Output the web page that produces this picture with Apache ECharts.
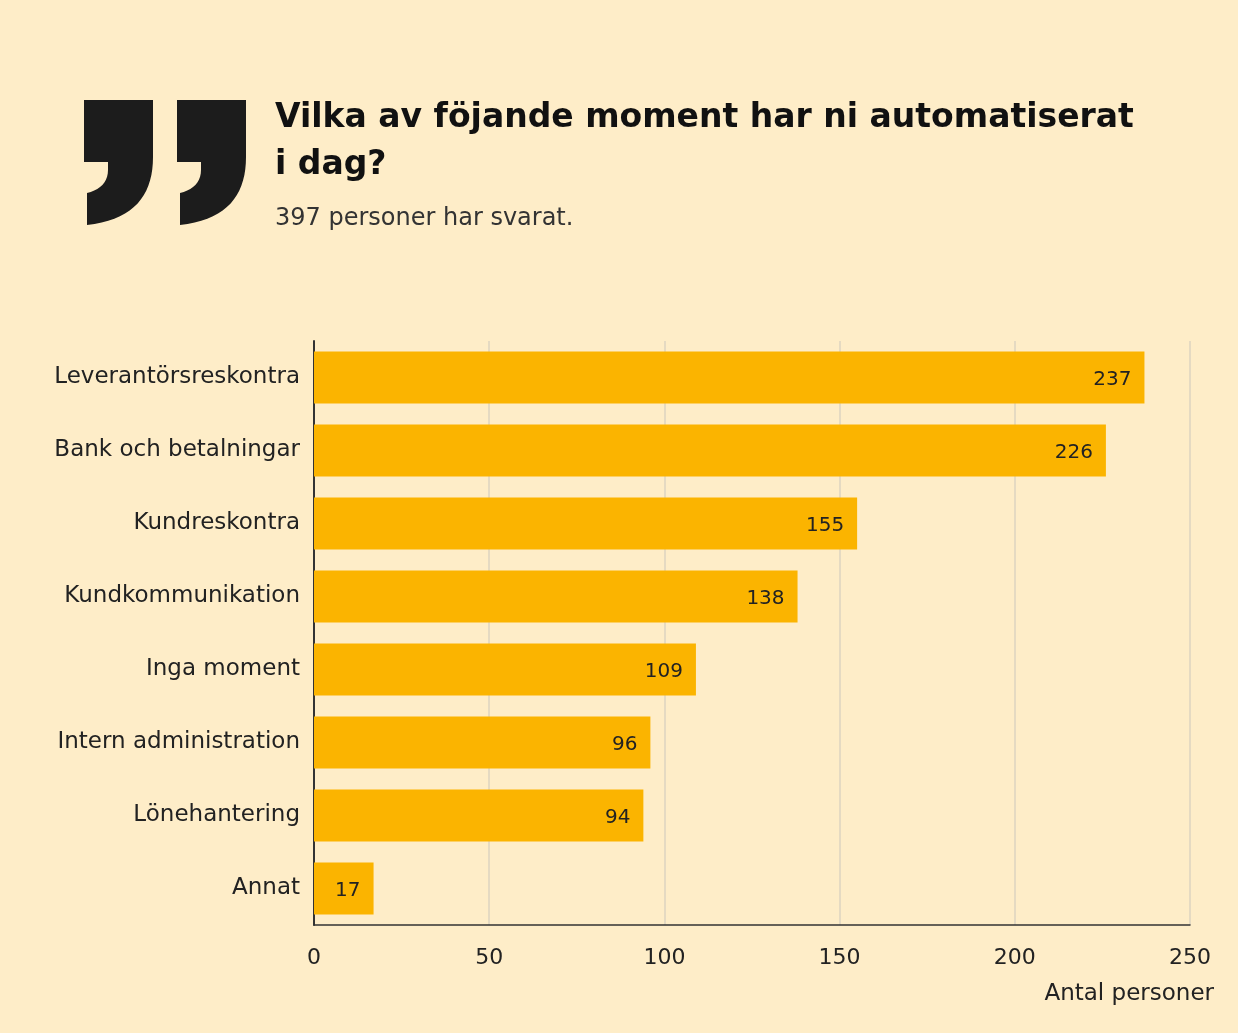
<!DOCTYPE html>
<html>
<head>
<meta charset="utf-8">
<script src="https://cdn.jsdelivr.net/npm/echarts@6/dist/echarts.min.js"></script>
<style>
  html, body { margin: 0; padding: 0; background: #FEEDC8; }
  #chart { width: 1238px; height: 1033px; }
</style>
</head>
<body>
<div id="chart"></div>
<script>
// data
const categories = [
  'Leverantörsreskontra',
  'Bank och betalningar',
  'Kundreskontra',
  'Kundkommunikation',
  'Inga moment',
  'Intern administration',
  'Lönehantering',
  'Annat'
];
const values = [237, 226, 155, 138, 109, 96, 94, 17];
const xTicks = [0, 50, 100, 150, 200, 250];

const FONT = '"DejaVu Sans", sans-serif';

// quote mark outline, flattened from two bezier curves
function bez(p0, p1, p2, p3, n) {
  const out = [];
  for (let i = 1; i <= n; i++) {
    const t = i / n, u = 1 - t;
    out.push([
      u * u * u * p0[0] + 3 * u * u * t * p1[0] + 3 * u * t * t * p2[0] + t * t * t * p3[0],
      u * u * u * p0[1] + 3 * u * u * t * p1[1] + 3 * u * t * t * p2[1] + t * t * t * p3[1]
    ]);
  }
  return out;
}
function quote(ox, oy) {
  let pts = [[0, 0], [69, 0], [69, 57]];
  pts = pts.concat(bez([69, 57], [69, 95], [50, 120], [3, 125], 18));
  pts.push([3, 93]);
  pts = pts.concat(bez([3, 93], [16, 90], [24, 82], [24, 70], 10));
  pts.push([24, 62], [0, 62]);
  return {
    type: 'polygon',
    shape: { points: pts.map(p => [p[0] + ox, p[1] + oy]) },
    style: { fill: '#1c1c1c' }
  };
}

const chart = echarts.init(document.getElementById('chart'));

chart.setOption({
  backgroundColor: '#FEEDC8',
  textStyle: { fontFamily: FONT },
  title: {
    left: 275,
    top: 95,
    padding: 0,
    text: 'Vilka av föjande moment har ni automatiserat\ni dag?',
    textStyle: {
      fontFamily: FONT,
      fontSize: 33,
      fontWeight: 'bold',
      color: '#111',
      lineHeight: 47
    },
    subtext: '397 personer har svarat.',
    subtextStyle: {
      fontFamily: FONT,
      fontSize: 24,
      color: '#333'
    },
    itemGap: 18
  },
  graphic: [quote(84, 100), quote(177, 100)],
  grid: { left: 314, right: 48, top: 341, bottom: 108 },
  xAxis: {
    type: 'value',
    min: xTicks[0],
    max: xTicks[xTicks.length - 1],
    interval: 50,
    name: 'Antal personer',
    nameLocation: 'end',
    nameGap: 24,
    nameTextStyle: {
      fontFamily: FONT,
      fontSize: 23,
      color: '#222',
      align: 'right',
      verticalAlign: 'top',
      padding: [58, 0, 0, 0]
    },
    axisLine: { show: true, lineStyle: { color: '#333', width: 1.5 } },
    axisTick: { show: false },
    axisLabel: { fontSize: 22, color: '#222', margin: 22, fontFamily: FONT },
    splitLine: { show: true, lineStyle: { color: '#dcd3c0', width: 1.5 } }
  },
  yAxis: {
    type: 'category',
    data: categories,
    inverse: true,
    axisLine: { show: true, lineStyle: { color: '#333', width: 2 } },
    axisTick: { show: false },
    axisLabel: { fontSize: 23, color: '#222', margin: 14, fontFamily: FONT }
  },
  series: [{
    type: 'bar',
    data: values,
    barWidth: 52,
    itemStyle: { color: '#FBB400' },
    label: {
      show: true,
      position: 'insideRight',
      distance: 13,
      offset: [0, 2],
      fontSize: 20,
      color: '#222',
      fontFamily: FONT
    }
  }]
});
</script>
</body>
</html>
